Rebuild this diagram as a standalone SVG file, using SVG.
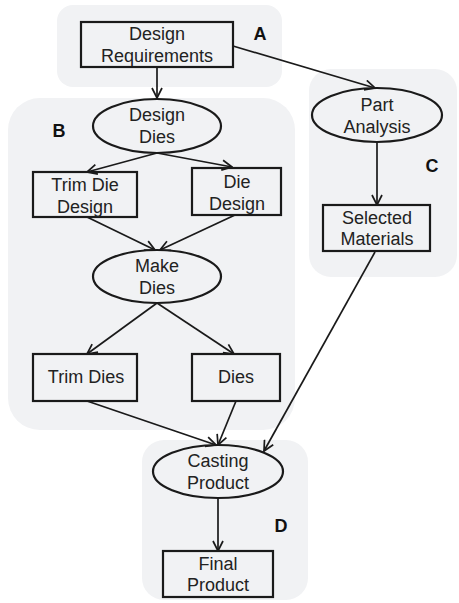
<svg xmlns="http://www.w3.org/2000/svg" width="459" height="603" viewBox="0 0 459 603">
<defs>
<style>
.panel{fill:#f1f2f4;stroke:none}
.box{fill:none;stroke:#1a1a1a;stroke-width:2.2}
.ell{fill:none;stroke:#1a1a1a;stroke-width:2.2}
.t{font-family:"Liberation Sans",Arial,sans-serif;font-size:18px;fill:#222;text-anchor:middle}
.lbl{font-family:"Liberation Sans",Arial,sans-serif;font-size:18px;font-weight:bold;fill:#111;text-anchor:middle}
.c{fill:none;stroke:#1a1a1a;stroke-width:1.7;marker-end:url(#arr)}
</style>
<marker id="arr" viewBox="0 0 12 12" refX="11" refY="6" markerWidth="12" markerHeight="12" markerUnits="userSpaceOnUse" orient="auto">
<path d="M1,1 L11,6 L1,11" fill="none" stroke="#1a1a1a" stroke-width="1.7"/>
</marker>
</defs>
<rect width="459" height="603" fill="#fff"/>
<g id="panels">
<rect class="panel" x="57" y="5" width="225" height="82" rx="16"/>
<rect class="panel" x="8" y="98" width="287" height="332" rx="32"/>
<rect class="panel" x="309" y="69" width="148" height="208" rx="22"/>
<rect class="panel" x="142" y="440" width="166" height="160" rx="22"/>
</g>
<g id="labels">
<text class="lbl" x="260" y="40">A</text>
<text class="lbl" x="59" y="137">B</text>
<text class="lbl" x="432" y="172">C</text>
<text class="lbl" x="281" y="532">D</text>
</g>
<g id="connectors">
<line class="c" x1="157" y1="68" x2="157" y2="98"/>
<line class="c" x1="233" y1="46" x2="375" y2="88"/>
<line class="c" x1="157" y1="153" x2="87" y2="172"/>
<line class="c" x1="157" y1="153" x2="232" y2="167"/>
<line class="c" x1="87" y1="217" x2="155" y2="250"/>
<line class="c" x1="235" y1="215" x2="160" y2="250"/>
<line class="c" x1="157" y1="303" x2="87" y2="354"/>
<line class="c" x1="157" y1="303" x2="234" y2="354"/>
<line class="c" x1="377" y1="142" x2="377" y2="205"/>
<line class="c" x1="87" y1="401" x2="216" y2="445"/>
<line class="c" x1="236" y1="401" x2="218" y2="445"/>
<line class="c" x1="375" y1="252" x2="264" y2="451"/>
<line class="c" x1="218" y1="498" x2="218" y2="551"/>
</g>
<g id="design-requirements">
<rect class="box" x="81" y="22" width="152" height="45"/>
<text class="t" x="157" y="40">Design</text>
<text class="t" x="157" y="62">Requirements</text>
</g>
<g id="design-dies">
<ellipse class="ell" cx="157" cy="126" rx="64" ry="27"/>
<text class="t" x="157" y="121">Design</text>
<text class="t" x="157" y="143">Dies</text>
</g>
<g id="trim-die-design">
<rect class="box" x="33" y="172" width="104" height="45"/>
<text class="t" x="85" y="191">Trim Die</text>
<text class="t" x="85" y="213">Design</text>
</g>
<g id="die-design">
<rect class="box" x="192" y="168" width="89" height="47"/>
<text class="t" x="237" y="188">Die</text>
<text class="t" x="237" y="210">Design</text>
</g>
<g id="make-dies">
<ellipse class="ell" cx="157" cy="276.5" rx="64" ry="26.5"/>
<text class="t" x="157" y="272">Make</text>
<text class="t" x="157" y="294">Dies</text>
</g>
<g id="trim-dies">
<rect class="box" x="33" y="354" width="104" height="47"/>
<text class="t" x="86" y="383">Trim Dies</text>
</g>
<g id="dies">
<rect class="box" x="192" y="354" width="88" height="47"/>
<text class="t" x="236" y="383">Dies</text>
</g>
<g id="part-analysis">
<ellipse class="ell" cx="377" cy="115" rx="65" ry="27"/>
<text class="t" x="377" y="111">Part</text>
<text class="t" x="377" y="133">Analysis</text>
</g>
<g id="selected-materials">
<rect class="box" x="323" y="205" width="107" height="46"/>
<text class="t" x="377" y="224">Selected</text>
<text class="t" x="377" y="245">Materials</text>
</g>
<g id="casting-product">
<ellipse class="ell" cx="218" cy="471.5" rx="65" ry="26.5"/>
<text class="t" x="218" y="467">Casting</text>
<text class="t" x="218" y="489">Product</text>
</g>
<g id="final-product">
<rect class="box" x="163" y="551" width="110" height="46"/>
<text class="t" x="218" y="570">Final</text>
<text class="t" x="218" y="591">Product</text>
</g>
</svg>
